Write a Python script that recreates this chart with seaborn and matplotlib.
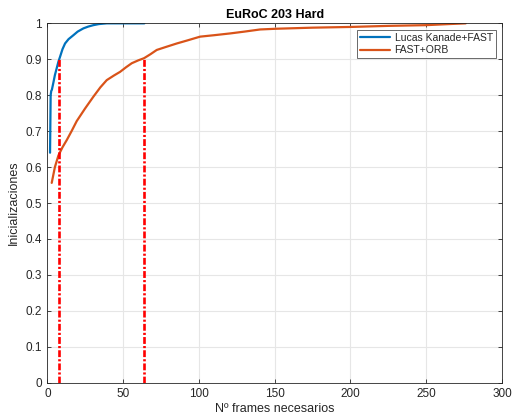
import matplotlib
matplotlib.use("Agg")
import matplotlib.pyplot as plt
import seaborn as sns
import pandas as pd

# Cumulative fraction of successful initialisations vs. frames required
lk_frames = [1.8, 2.2, 2.6, 3.0, 4.0, 5.0, 6.0, 7.3, 8.4, 10.0, 11.7, 14.0, 17.2, 20.0, 23.8, 27.0, 30.4, 34.0, 39.2, 45.0, 55.0, 64.0]
lk_frac = [0.64, 0.80, 0.812, 0.815, 0.835, 0.856, 0.872, 0.893, 0.907, 0.928, 0.944, 0.956, 0.967, 0.977, 0.986, 0.991, 0.995, 0.998, 1.0, 1.0, 1.0, 1.0]

orb_frames = [2.9, 5.0, 7.3, 10.0, 12.8, 16.0, 19.4, 24.9, 30.4, 35.0, 39.2, 44.0, 48.0, 52.0, 55.7, 60.0, 63.8, 68.0, 72.2, 78.0, 85.4, 92.0, 100.8, 110.0, 120.7, 130.0, 140.4, 151.0, 175.0, 200.0, 225.0, 250.0, 265.0, 276.0]
orb_frac = [0.556, 0.60, 0.632, 0.655, 0.675, 0.70, 0.728, 0.763, 0.796, 0.822, 0.842, 0.855, 0.865, 0.878, 0.889, 0.897, 0.903, 0.914, 0.926, 0.934, 0.944, 0.952, 0.963, 0.967, 0.972, 0.977, 0.983, 0.985, 0.988, 0.99, 0.993, 0.995, 0.998, 1.0]

# Frames needed to reach 90% of initialisations for each method
p90_frames = [7.7, 63.5]
p90_level = 0.9

legend_labels = ["Lucas Kanade+FAST", "FAST+ORB"]
colors = ["#0072BD", "#D95319"]

sns.set_theme(style="whitegrid")
plt.rcParams["font.family"] = ["Liberation Sans", "DejaVu Sans"]

fig = plt.figure(figsize=(5.16, 4.17), dpi=100)
ax = fig.add_axes([0.0917, 0.0823, 0.8813, 0.8617])

df = pd.concat([
    pd.DataFrame({"frames": lk_frames, "frac": lk_frac, "metodo": legend_labels[0]}),
    pd.DataFrame({"frames": orb_frames, "frac": orb_frac, "metodo": legend_labels[1]}),
])
sns.lineplot(data=df, x="frames", y="frac", hue="metodo", palette=colors,
             linewidth=1.6, ax=ax, sort=False, estimator=None)

for xv in p90_frames:
    ax.plot([xv, xv], [0, p90_level], color="red",
            linestyle=(0, (2.6, 0.8, 0.8, 0.8)), linewidth=1.9)

ax.set_xlim(0, 300)
ax.set_ylim(0, 1)
ax.set_xticks(range(0, 301, 50))
ax.set_yticks([i / 10 for i in range(11)])
ax.set_yticklabels(["0", "0.1", "0.2", "0.3", "0.4", "0.5", "0.6", "0.7", "0.8", "0.9", "1"])
ax.set_facecolor("white")
ax.grid(True, color="#e6e6e6", linewidth=0.8)
for s in ax.spines.values():
    s.set_visible(True)
    s.set_color("#262626")
    s.set_linewidth(0.6)
ax.tick_params(axis="both", direction="in", length=3, width=0.6, color="#262626",
               labelsize=8.5, labelcolor="#262626", top=True, right=True,
               bottom=True, left=True, pad=4)
ax.set_xlabel("Nº frames necesarios", fontsize=9, color="#262626", labelpad=2)
ax.set_ylabel("Inicializaciones", fontsize=9, color="#262626", labelpad=4)
ax.set_title("EuRoC 203 Hard", fontsize=9, fontweight="bold", color="black", pad=4)

leg = ax.legend(loc="upper right", fontsize=7.5, frameon=True, fancybox=False,
                edgecolor="#262626", handlelength=2.9, borderpad=0.3,
                labelspacing=0.25, borderaxespad=0.6, handletextpad=0.4)
leg.get_frame().set_linewidth(0.6)
leg.set_title(None)

fig.savefig("out.png", dpi=100, facecolor="white")
